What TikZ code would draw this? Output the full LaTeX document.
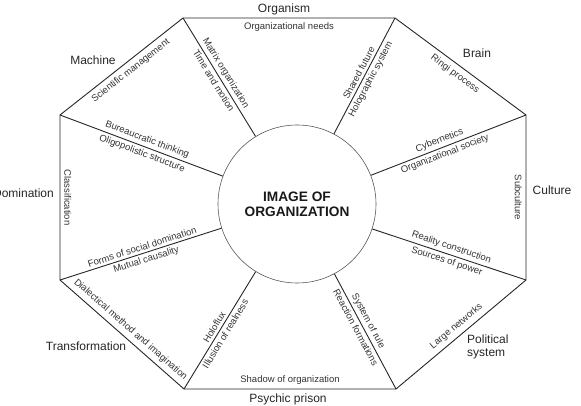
\documentclass[tikz,border=0pt]{standalone}
\usepackage{fontspec}
\setmainfont{Liberation Sans}
\usetikzlibrary{calc}
\begin{document}
\begin{tikzpicture}[x=1pt,y=-1pt,
  edgeline/.style={line width=0.9pt, draw=black!85},
  spokeline/.style={line width=0.9pt, draw=black!85},
  elab/.style={font=\fontsize{9.5}{11}\selectfont, text=black!80, inner sep=4.5pt, sloped},
  slab/.style={font=\fontsize{9.5}{11}\selectfont, text=black!80, inner sep=2.5pt, sloped},
  vlab/.style={font=\fontsize{9.5}{11}\selectfont, text=black!80, inner sep=4pt, rotate=-90},
  outlab/.style={font=\fontsize{12}{13}\selectfont, text=black!85, inner sep=0pt}]
\useasboundingbox (0,0) rectangle (581,406);
% vertices
\coordinate (v1) at (183,18);
\coordinate (v2) at (395,18);
\coordinate (v3) at (526,115);
\coordinate (v4) at (526,280);
\coordinate (v5) at (396,389);
\coordinate (v6) at (184,389);
\coordinate (v7) at (60,280);
\coordinate (v8) at (60,115);
% centre circle
\node[circle, draw=black!65, line width=0.6pt, minimum size=158pt, inner sep=0pt,
      align=center, font=\bfseries\fontsize{13.7}{15}\selectfont, text=black!90]
      (c) at (297,204) {IMAGE OF\\ORGANIZATION};
% octagon
\draw[edgeline] (v1) -- (v2) -- (v3) -- (v4) -- (v5) -- (v6) -- (v7) -- (v8) -- cycle;
% spokes with labels
\draw[spokeline] (v1) -- (c)
  node[slab, pos=0.5, above] {Matrix organization}
  node[slab, pos=0.5, below] {Time and motion};
\draw[spokeline] (c) -- (v2)
  node[slab, pos=0.5, above] {Shared future}
  node[slab, pos=0.5, below] {Holographic system};
\draw[spokeline] (c) -- (v3)
  node[slab, pos=0.46, above] {Cybernetics}
  node[slab, pos=0.46, below] {Organizational society};
\draw[spokeline] (c) -- (v4)
  node[slab, pos=0.5, above] {Reality construction}
  node[slab, pos=0.5, below] {Sources of power};
\draw[spokeline] (c) -- (v5)
  node[slab, pos=0.44, above] {System of rule}
  node[slab, pos=0.44, below] {Reaction formations};
\draw[spokeline] (v6) -- (c)
  node[slab, pos=0.5, above] {Holoflux}
  node[slab, pos=0.5, below] {Illusion of realness};
\draw[spokeline] (v7) -- (c)
  node[slab, pos=0.52, above] {Forms of social domination}
  node[slab, pos=0.52, below] {Mutual causality};
\draw[spokeline] (v8) -- (c)
  node[slab, pos=0.52, above] {Bureaucratic thinking}
  node[slab, pos=0.52, below] {Oligopolistic structure};
% edge labels (inside)
\path (v1) -- (v2) node[elab, pos=0.5, below] {Organizational needs};
\path (v8) -- (v1) node[elab, pos=0.53, below] {Scientific management};
\path (v2) -- (v3) node[elab, pos=0.5, below] {Ringi process};
\path (v7) -- (v6) node[elab, pos=0.52, above] {Dialectical method and imagination};
\path (v5) -- (v4) node[elab, pos=0.51, above] {Large networks};
\path (v6) -- (v5) node[elab, pos=0.5, above] {Shadow of organization};
\node[vlab, anchor=south] (cl) at ($(v8)!0.5!(v7)$) {Classification};
\node[vlab, anchor=north] (sc) at ($(v3)!0.5!(v4)$) {Subculture};
% outer labels
\node[outlab] (organism) at (284,9) {Organism};
\node[outlab] (machine) at (93,60) {Machine};
\node[outlab] (brain) at (477,53) {Brain};
\node[outlab, anchor=east] (domination) at (54,193) {Domination};
\node[outlab] (culture) at (552,190) {Culture};
\node[outlab] (transformation) at (86,346) {Transformation};
\node[outlab, anchor=west, align=left] (political) at (467,347) {Political\\system};
\node[outlab] (psychic) at (288,399) {Psychic prison};
\end{tikzpicture}
\end{document}
